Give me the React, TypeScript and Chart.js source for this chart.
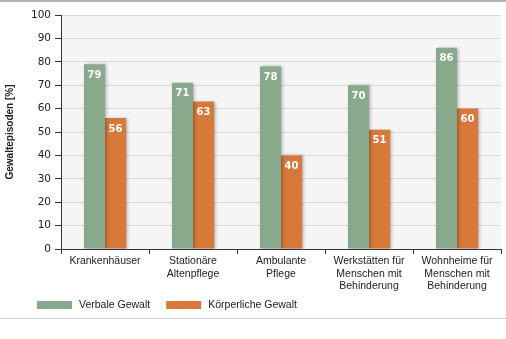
import React, { useEffect, useRef } from "react";
import { Chart, registerables } from "chart.js";

Chart.register(...registerables);

const categories: (string | string[])[] = [
  "Krankenhäuser",
  ["Stationäre", "Altenpflege"],
  ["Ambulante", "Pflege"],
  ["Werkstätten für", "Menschen mit", "Behinderung"],
  ["Wohnheime für", "Menschen mit", "Behinderung"],
];
const seriesNames = ["Verbale Gewalt", "Körperliche Gewalt"];
const verbal = [79, 71, 78, 70, 86];
const physical = [56, 63, 40, 51, 60];
const colors = ["#89a98d", "#d6793a"];
const yTitle = "Gewaltepisoden [%]";

const textFont = "'Liberation Sans', Arial, sans-serif";
const numFont = "'DejaVu Sans', Verdana, sans-serif";

const decorPlugin = {
  id: "decor",
  beforeDraw(chart: any) {
    const { ctx, chartArea, width } = chart;
    ctx.save();
    ctx.fillStyle = "#f5f5f5";
    ctx.fillRect(chartArea.left, chartArea.top, chartArea.right - chartArea.left, chartArea.bottom - chartArea.top);
    ctx.fillStyle = "#b4b4b0";
    ctx.fillRect(0, 0, width, 2);
    ctx.fillStyle = "#cfcfcc";
    ctx.fillRect(0, 318, width, 1);
    ctx.restore();
  },
};

const shadowPlugin = {
  id: "barShadow",
  beforeDatasetsDraw(chart: any) {
    const ctx = chart.ctx;
    ctx.save();
    ctx.shadowColor = "rgba(0,0,0,0.28)";
    ctx.shadowBlur = 3;
    ctx.shadowOffsetX = 2;
    ctx.shadowOffsetY = 0;
  },
  afterDatasetsDraw(chart: any) {
    chart.ctx.restore();
  },
};

const labelPlugin = {
  id: "valueLabels",
  afterDatasetsDraw(chart: any) {
    const ctx = chart.ctx;
    ctx.save();
    ctx.font = `bold 10px ${numFont}`;
    ctx.fillStyle = "#ffffff";
    ctx.textAlign = "center";
    ctx.textBaseline = "middle";
    chart.data.datasets.forEach((ds: any, di: number) => {
      const meta = chart.getDatasetMeta(di);
      meta.data.forEach((bar: any, i: number) => {
        ctx.fillText(String(ds.data[i]), bar.x, bar.y + 11);
      });
    });
    ctx.restore();
  },
};

const legendPlugin = {
  id: "customLegend",
  afterDraw(chart: any) {
    const ctx = chart.ctx;
    ctx.save();
    ctx.font = `10.5px ${textFont}`;
    ctx.textBaseline = "middle";
    ctx.textAlign = "left";
    let x = 37;
    const y = 305;
    chart.data.datasets.forEach((ds: any) => {
      ctx.fillStyle = ds.backgroundColor;
      ctx.fillRect(x, y - 4, 35, 8);
      ctx.fillStyle = "#222";
      ctx.fillText(ds.label, x + 42, y);
      x += 42 + ctx.measureText(ds.label).width + 16;
    });
    ctx.restore();
  },
};

export default function App() {
  const ref = useRef<HTMLCanvasElement>(null);
  useEffect(() => {
    document.body.style.margin = "0";
    const chart = new Chart(ref.current!, {
      type: "bar",
      data: {
        labels: categories,
        datasets: [
          { label: seriesNames[0], data: verbal, backgroundColor: colors[0] },
          { label: seriesNames[1], data: physical, backgroundColor: colors[1] },
        ],
      },
      plugins: [decorPlugin, shadowPlugin, labelPlugin, legendPlugin],
      options: {
        responsive: false,
        animation: false,
        layout: { padding: { left: 0, right: 5, top: 15, bottom: 0 } },
        datasets: { bar: { categoryPercentage: 0.48, barPercentage: 1 } },
        plugins: { legend: { display: false }, tooltip: { enabled: false } },
        scales: {
          x: {
            afterFit: (s: any) => { s.height = 90; },
            grid: { drawOnChartArea: false, drawTicks: true, tickLength: 5, tickColor: "#333", offset: true },
            border: { color: "#333", width: 1 },
            ticks: { color: "#222", font: { family: textFont, size: 10.5 }, padding: 1, maxRotation: 0, autoSkip: false },
          },
          y: {
            min: 0,
            max: 100,
            afterFit: (s: any) => { s.width = 61; },
            grid: { color: "#dadada", tickColor: "#333", tickLength: 6 },
            border: { color: "#333", width: 1 },
            ticks: { stepSize: 10, color: "#222", font: { family: numFont, size: 10.5 }, padding: 4 },
            title: { display: true, text: yTitle, color: "#222", font: { family: textFont, size: 10, weight: "bold" }, padding: { top: 4, bottom: 0 } },
          },
        },
      },
    });
    return () => chart.destroy();
  }, []);
  return <canvas ref={ref} width={506} height={339} style={{ display: "block" }} />;
}
